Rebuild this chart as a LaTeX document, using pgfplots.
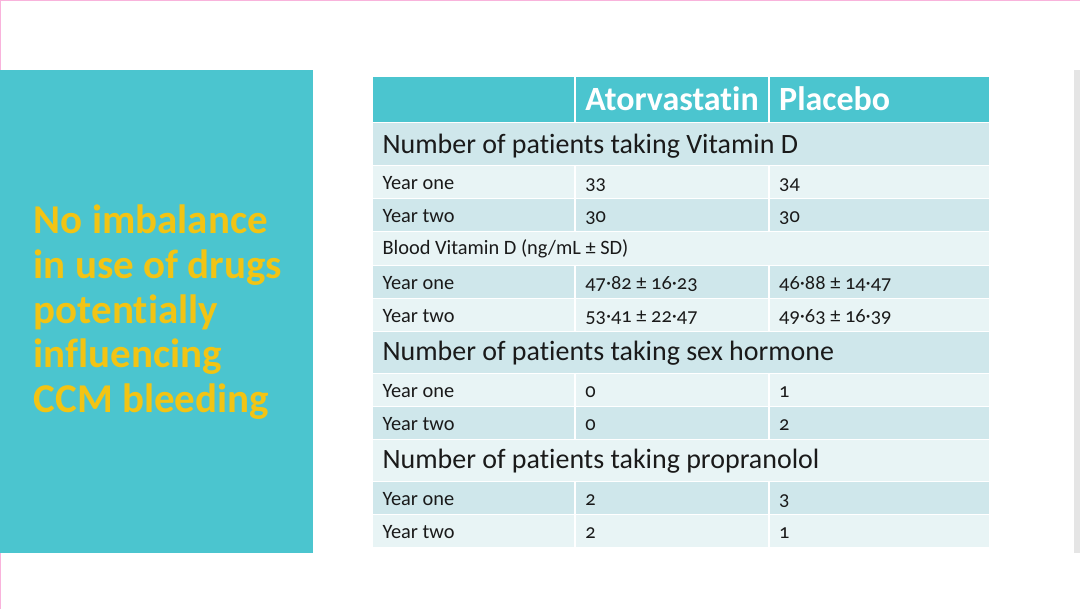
\documentclass[border=0pt]{standalone}
\usepackage{pgfplots}
\pgfplotsset{compat=1.18}
\usepackage{fontspec}
\setmainfont{Carlito}[Numbers=OldStyle,Ligatures=NoCommon]
\definecolor{tealbox}{HTML}{4BC5CF}
\definecolor{rowdark}{HTML}{CFE7EB}
\definecolor{rowlight}{HTML}{E8F4F5}
\definecolor{gold}{HTML}{F2C414}
\definecolor{txt}{HTML}{1A1A1A}
% row helpers: top, bottom in pixel units (y grows downwards)
\newcommand{\splitrow}[3]{% top, bottom, colour
 \fill[#3] (axis cs:373,#1+1) rectangle (axis cs:574,#2-1);
 \fill[#3] (axis cs:576,#1+1) rectangle (axis cs:768,#2-1);
 \fill[#3] (axis cs:770,#1+1) rectangle (axis cs:989,#2-1);}
\newcommand{\fullrow}[3]{\fill[#3] (axis cs:373,#1+1) rectangle (axis cs:989,#2-1);}
\newcommand{\bigtxt}{\fontsize{14}{16}\selectfont}
\newcommand{\smalltxt}{\fontsize{10.2}{12}\selectfont}
\newcommand{\headtxt}{\fontsize{17}{20}\selectfont\bfseries}
\newcommand{\sidetxt}{\fontsize{20.5}{24}\selectfont\bfseries}
\begin{document}
\begin{tikzpicture}
\begin{axis}[width=540pt,height=304.5pt,scale only axis,
 xmin=0,xmax=1080,ymin=0,ymax=609,y dir=reverse,
 axis lines=none,ticks=none,clip=false]
\fill[white] (axis cs:0,0) rectangle (axis cs:1080,609);
\draw[magenta!30,line width=0.5pt] (axis cs:0,0.5) -- (axis cs:1080,0.5);
\draw[magenta!30,line width=0.5pt] (axis cs:0.5,0) -- (axis cs:0.5,609);
% left panel
\fill[tealbox] (axis cs:0,70) rectangle (axis cs:313,553);
\fill[gray!20] (axis cs:1074,70) rectangle (axis cs:1080,553);
\node[anchor=base west,inner sep=0pt,text=gold,font=\sidetxt] at (axis cs:33,233) {No imbalance};
\node[anchor=base west,inner sep=0pt,text=gold,font=\sidetxt] at (axis cs:33,278) {in use of drugs};
\node[anchor=base west,inner sep=0pt,text=gold,font=\sidetxt] at (axis cs:33,323) {potentially};
\node[anchor=base west,inner sep=0pt,text=gold,font=\sidetxt] at (axis cs:33,367) {influencing};
\node[anchor=base west,inner sep=0pt,text=gold,font=\sidetxt] at (axis cs:33,412) {CCM bleeding};
% table rows
\splitrow{76}{123}{tealbox}
\fullrow{122}{166}{rowdark}
\splitrow{165}{199}{rowlight}
\splitrow{198}{232}{rowdark}
\fullrow{231}{266}{rowlight}
\splitrow{265}{299}{rowdark}
\splitrow{298}{332}{rowlight}
\fullrow{331}{374}{rowdark}
\splitrow{373}{407}{rowlight}
\splitrow{406}{440}{rowdark}
\fullrow{439}{482}{rowlight}
\splitrow{481}{515}{rowdark}
\splitrow{514}{548}{rowlight}
% header
\node[anchor=base west,inner sep=0pt,text=white,font=\headtxt] at (axis cs:585,110) {Atorvastatin};
\node[anchor=base west,inner sep=0pt,text=white,font=\headtxt] at (axis cs:779,110) {Placebo};
% section rows
\node[anchor=base west,inner sep=0pt,text=txt,font=\bigtxt] at (axis cs:382,153) {Number of patients taking Vitamin D};
\node[anchor=base west,inner sep=0pt,text=txt,font=\smalltxt] at (axis cs:382,254) {Blood Vitamin D (ng/mL ± SD)};
\node[anchor=base west,inner sep=0pt,text=txt,font=\bigtxt] at (axis cs:382,360) {Number of patients taking sex hormone};
\node[anchor=base west,inner sep=0pt,text=txt,font=\bigtxt] at (axis cs:382,468) {Number of patients taking propranolol};
% year rows: label, atorvastatin, placebo
\node[anchor=base west,inner sep=0pt,text=txt,font=\smalltxt] at (axis cs:382,189) {Year one};
\node[anchor=base west,inner sep=0pt,text=txt,font=\smalltxt] at (axis cs:585,189) {33};
\node[anchor=base west,inner sep=0pt,text=txt,font=\smalltxt] at (axis cs:779,189) {34};
\node[anchor=base west,inner sep=0pt,text=txt,font=\smalltxt] at (axis cs:382,222) {Year two};
\node[anchor=base west,inner sep=0pt,text=txt,font=\smalltxt] at (axis cs:585,222) {30};
\node[anchor=base west,inner sep=0pt,text=txt,font=\smalltxt] at (axis cs:779,222) {30};
\node[anchor=base west,inner sep=0pt,text=txt,font=\smalltxt] at (axis cs:382,289) {Year one};
\node[anchor=base west,inner sep=0pt,text=txt,font=\smalltxt] at (axis cs:585,289) {47·82 ± 16·23};
\node[anchor=base west,inner sep=0pt,text=txt,font=\smalltxt] at (axis cs:779,289) {46·88 ± 14·47};
\node[anchor=base west,inner sep=0pt,text=txt,font=\smalltxt] at (axis cs:382,322) {Year two};
\node[anchor=base west,inner sep=0pt,text=txt,font=\smalltxt] at (axis cs:585,322) {53·41 ± 22·47};
\node[anchor=base west,inner sep=0pt,text=txt,font=\smalltxt] at (axis cs:779,322) {49·63 ± 16·39};
\node[anchor=base west,inner sep=0pt,text=txt,font=\smalltxt] at (axis cs:382,397) {Year one};
\node[anchor=base west,inner sep=0pt,text=txt,font=\smalltxt] at (axis cs:585,397) {0};
\node[anchor=base west,inner sep=0pt,text=txt,font=\smalltxt] at (axis cs:779,397) {1};
\node[anchor=base west,inner sep=0pt,text=txt,font=\smalltxt] at (axis cs:382,430) {Year two};
\node[anchor=base west,inner sep=0pt,text=txt,font=\smalltxt] at (axis cs:585,430) {0};
\node[anchor=base west,inner sep=0pt,text=txt,font=\smalltxt] at (axis cs:779,430) {2};
\node[anchor=base west,inner sep=0pt,text=txt,font=\smalltxt] at (axis cs:382,505) {Year one};
\node[anchor=base west,inner sep=0pt,text=txt,font=\smalltxt] at (axis cs:585,505) {2};
\node[anchor=base west,inner sep=0pt,text=txt,font=\smalltxt] at (axis cs:779,505) {3};
\node[anchor=base west,inner sep=0pt,text=txt,font=\smalltxt] at (axis cs:382,538) {Year two};
\node[anchor=base west,inner sep=0pt,text=txt,font=\smalltxt] at (axis cs:585,538) {2};
\node[anchor=base west,inner sep=0pt,text=txt,font=\smalltxt] at (axis cs:779,538) {1};
\end{axis}
\end{tikzpicture}
\end{document}
